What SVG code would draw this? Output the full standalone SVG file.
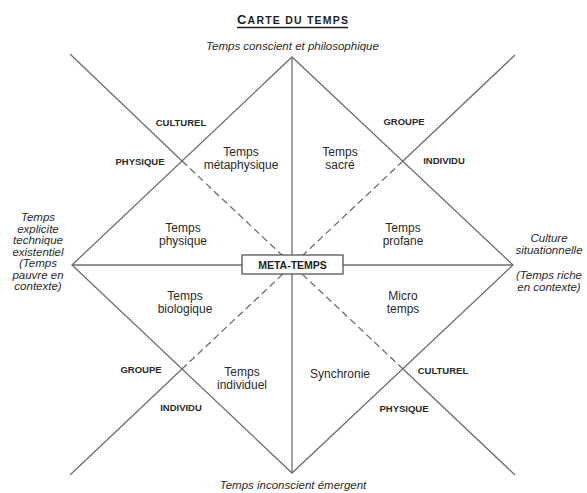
<svg xmlns="http://www.w3.org/2000/svg" width="587" height="493" viewBox="0 0 587 493">
<style>
.ln{stroke:#6e6e6e;stroke-width:1.3;fill:none}
.dash{stroke-dasharray:7 4}
.it{font-family:"Liberation Sans",Arial,sans-serif;font-style:italic;font-size:11.5px;fill:#2a2a2a;text-anchor:middle}
.q{font-family:"Liberation Sans",Arial,sans-serif;font-size:12px;fill:#2a2a2a;text-anchor:middle}
.b{font-family:"Liberation Sans",Arial,sans-serif;font-weight:bold;font-size:9.5px;fill:#2a2a2a;text-anchor:middle}
</style>
<rect width="587" height="493" fill="#ffffff"/>
<g id="title">
<text x="292.5" y="24" font-family="Liberation Sans,Arial,sans-serif" font-weight="bold" fill="#1e1e1e" text-anchor="middle" textLength="111" lengthAdjust="spacing"><tspan font-size="13">C</tspan><tspan font-size="10.5">ARTE DU TEMPS</tspan></text>
<line x1="237" y1="27.5" x2="348" y2="27.5" stroke="#1e1e1e" stroke-width="1.3"/>
</g>
<g id="connectors">
<polygon class="ln" points="292,57 513,265 292,473 72,265"/>
<line class="ln" x1="292" y1="57" x2="292" y2="473"/>
<line class="ln" x1="72" y1="265" x2="513" y2="265"/>
<line class="ln" x1="70" y1="54" x2="182" y2="161"/>
<line class="ln dash" x1="182" y1="161" x2="403" y2="369"/>
<line class="ln" x1="403" y1="369" x2="515" y2="475"/>
<line class="ln" x1="515" y1="55" x2="403" y2="161"/>
<line class="ln dash" x1="403" y1="161" x2="182" y2="369"/>
<line class="ln" x1="182" y1="369" x2="70" y2="475"/>
</g>
<g id="top-label"><text class="it" x="292.5" y="50">Temps conscient et philosophique</text></g>
<g id="bottom-label"><text class="it" x="293" y="489">Temps inconscient émergent</text></g>
<g id="left-label"><text class="it" x="38" y="221"><tspan x="38">Temps</tspan><tspan x="38" dy="11.5">explicite</tspan><tspan x="38" dy="11.5">technique</tspan><tspan x="38" dy="11.5">existentiel</tspan><tspan x="38" dy="11.5">(Temps</tspan><tspan x="38" dy="11.5">pauvre en</tspan><tspan x="38" dy="11.5">contexte)</tspan></text></g>
<g id="right-label"><text class="it" x="549" y="242"><tspan x="549">Culture</tspan><tspan x="549" dy="12">situationnelle</tspan><tspan x="549" dy="25">(Temps riche</tspan><tspan x="549" dy="12">en contexte)</tspan></text></g>
<g id="metaphysique"><text class="q" x="241" y="156"><tspan x="241">Temps</tspan><tspan x="241" dy="13">métaphysique</tspan></text></g>
<g id="sacre"><text class="q" x="340" y="156"><tspan x="340">Temps</tspan><tspan x="340" dy="13">sacré</tspan></text></g>
<g id="physique"><text class="q" x="183" y="232"><tspan x="183">Temps</tspan><tspan x="183" dy="13">physique</tspan></text></g>
<g id="profane"><text class="q" x="403" y="232"><tspan x="403">Temps</tspan><tspan x="403" dy="13">profane</tspan></text></g>
<g id="biologique"><text class="q" x="185" y="300"><tspan x="185">Temps</tspan><tspan x="185" dy="13">biologique</tspan></text></g>
<g id="micro"><text class="q" x="403" y="300"><tspan x="403">Micro</tspan><tspan x="403" dy="13">temps</tspan></text></g>
<g id="individuel"><text class="q" x="242" y="376"><tspan x="242">Temps</tspan><tspan x="242" dy="13">individuel</tspan></text></g>
<g id="synchronie"><text class="q" x="340" y="378">Synchronie</text></g>
<g id="l-culturel-tl"><text class="b" x="181" y="126">CULTUREL</text></g>
<g id="l-physique-tl"><text class="b" x="140" y="165">PHYSIQUE</text></g>
<g id="l-groupe-tr"><text class="b" x="404" y="125">GROUPE</text></g>
<g id="l-individu-tr"><text class="b" x="444" y="164">INDIVIDU</text></g>
<g id="l-groupe-bl"><text class="b" x="141" y="373">GROUPE</text></g>
<g id="l-individu-bl"><text class="b" x="181" y="411">INDIVIDU</text></g>
<g id="l-culturel-br"><text class="b" x="443" y="374">CULTUREL</text></g>
<g id="l-physique-br"><text class="b" x="404" y="412">PHYSIQUE</text></g>
<g id="meta-temps">
<rect x="242" y="255" width="101" height="19" fill="#ffffff" stroke="#555555" stroke-width="1.3"/>
<text x="292.5" y="268.5" font-family="Liberation Sans,Arial,sans-serif" font-weight="bold" font-size="10.5" fill="#1e1e1e" text-anchor="middle">META-TEMPS</text>
</g>
</svg>
